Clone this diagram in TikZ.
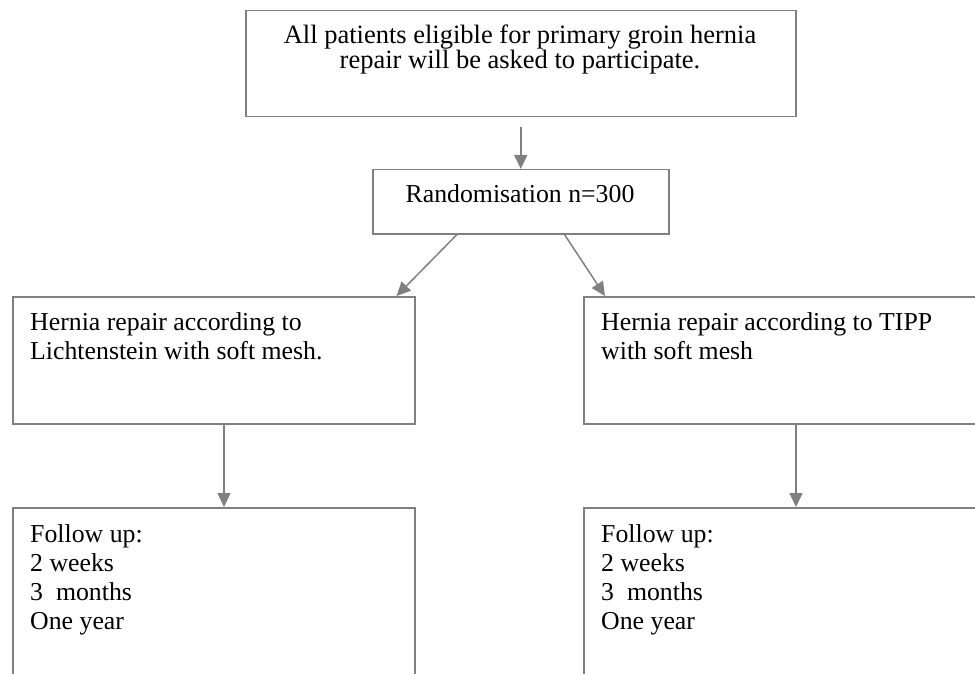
\documentclass[tikz,border=0pt]{standalone}
\usepackage{fontspec}
\setmainfont{Liberation Serif}
\usetikzlibrary{arrows.meta,positioning}
\definecolor{linegray}{RGB}{128,128,128}
\begin{document}
\begin{tikzpicture}[x=1pt, y=-1pt,
    box/.style 2 args={draw=linegray, line width=1.5pt, inner sep=0pt, minimum width=#1pt, minimum height=#2pt, anchor=north west},
    txt/.style={inner sep=0pt, font=\fontsize{25.8}{29}\selectfont, align=left, anchor=north west},
    arr/.style={draw=linegray, line width=1.5pt, -{Triangle[length=14pt, width=13pt]}}]
    \useasboundingbox (0,0) rectangle (975,674);
    \clip (0,0) rectangle (975,674);
    % boxes
    \node[box={550}{106}] (elig) at (245,10) {};
    \node[box={296}{64}] (rand) at (372,169) {};
    \node[box={402}{127}] (lichten) at (12,296) {};
    \node[box={402}{127}] (tipp) at (583,296) {};
    \node[box={402}{200}] (followl) at (12,507) {};
    \node[box={402}{200}] (followr) at (583,507) {};
    % texts
    \node[inner sep=0pt, anchor=north, align=center, font=\fontsize{26.5}{24}\selectfont] (eligtxt) at (520,25)
        {All patients eligible for primary groin hernia\\repair will be asked to participate.};
    \node[inner sep=0pt, anchor=base, font=\fontsize{25.8}{29}\selectfont] (randtxt) at (520,203) {Randomisation n=300};
    \node[txt] (lichtentxt) at (30,312) {Hernia repair according to\\Lichtenstein with soft mesh.};
    \node[txt] (tipptxt) at (601,312) {Hernia repair according to TIPP\\with soft mesh};
    \node[txt] (followltxt) at (30,524) {Follow up:\\2 weeks\\3\ \ months\\One year};
    \node[txt] (followrtxt) at (601,524) {Follow up:\\2 weeks\\3\ \ months\\One year};
    % arrows
    \coordinate (eligout) at ([yshift=-10pt]elig.south);
    \draw[arr] (eligout) -- (rand.north);
    \draw[arr] ([xshift=85pt]rand.south west) -- ([xshift=-19pt]lichten.north east);
    \draw[arr] ([xshift=-105pt]rand.south east) -- ([xshift=22pt]tipp.north west);
    \draw[arr] ([xshift=212pt]lichten.south west) -- ([xshift=212pt]followl.north west);
    \draw[arr] ([xshift=213pt]tipp.south west) -- ([xshift=213pt]followr.north west);
\end{tikzpicture}
\end{document}
